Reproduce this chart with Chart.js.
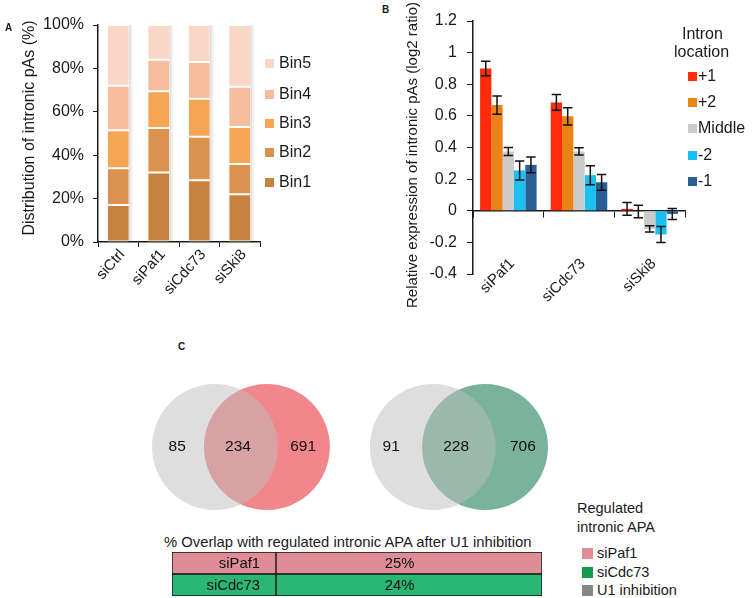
<!DOCTYPE html>
<html>
<head>
<meta charset="utf-8">
<script src="https://cdn.jsdelivr.net/npm/chart.js@4.4.1/dist/chart.umd.min.js"></script>
<style>
  body { margin: 0; background: #fff; font-family: Arial, "Liberation Sans", sans-serif; color: #1a1a1a; }
  #fig { position: relative; width: 753px; height: 598px; overflow: hidden; }
  #fig canvas { position: absolute; }
  .txt { position: absolute; white-space: nowrap; line-height: 20px; height: 20px; }
  .sq { position: absolute; }
  .panel { position: absolute; font-weight: bold; font-size: 10px; }
</style>
</head>
<body>
<div id="fig">
  <canvas id="distChart" width="300" height="300" style="left:0;top:0"></canvas>
  <canvas id="exprChart" width="300" height="320" style="left:400px;top:0"></canvas>
  <canvas id="vennChart" width="396" height="128" style="left:152px;top:383px"></canvas>
  <canvas id="overlapChart" width="370" height="44" style="left:172px;top:552px"></canvas>
</div>
<script>
// Panel A - distribution of intronic pAs (% per bin, stacked)
const distGroups = ["siCtrl", "siPaf1", "siCdc73", "siSki8"];
const binNames = ["Bin1", "Bin2", "Bin3", "Bin4", "Bin5"];
const bin1 = [17, 32, 28.5, 22];
const bin2 = [17, 20.5, 20, 14];
const bin3 = [17.5, 17, 17.5, 17];
const bin4 = [20.5, 14.5, 17, 18.5];
const bin5 = [28, 16, 17, 28.5];
const distTicks = [0, 20, 40, 60, 80, 100];

// Panel B - relative expression (log2 ratio) with error bars
const exprGroups = ["siPaf1", "siCdc73", "siSki8"];
const intronLocs = ["+1", "+2", "Middle", "-2", "-1"];
const locP1 = [0.90, 0.685, 0.012];
const locP2 = [0.668, 0.597, -0.005];
const locMid = [0.375, 0.375, -0.115];
const locM2 = [0.255, 0.225, -0.15];
const locM1 = [0.29, 0.18, -0.02];
const errP1 = [0.046, 0.05, 0.04];
const errP2 = [0.057, 0.054, 0.04];
const errMid = [0.025, 0.023, 0.02];
const errM2 = [0.06, 0.06, 0.05];
const errM1 = [0.05, 0.05, 0.035];
const exprTicks = [-0.4, -0.2, 0, 0.2, 0.4, 0.6, 0.8, 1, 1.2];

// Panel C - venn counts (U1 only, both, knockdown only)
const vennPaf1 = [85, 234, 691];
const vennCdc73 = [91, 228, 706];
const overlapRows = ["siPaf1", "siCdc73"];
const overlapPct = [25, 24];
const regLegend = ["siPaf1", "siCdc73", "U1 inhibition"];

// colours / layout (kept apart from the data)
const binColors = ["#c8823f", "#dc924f", "#f5a553", "#f6bd9d", "#f9d6c6"];
const locColors = ["#ff2b0a", "#ec8317", "#cbcbcb", "#1bc0f0", "#2b5e95"];
const regColors = ["#de8e97", "#139a4a", "#868686"];
const rowColors = ["#de8d96", "#2bb673"];
const VENN_X = { u1a: 0, paf1: 0.825, u1b: 3.46, cdc73: 4.29 };
const VENN_LABEL_X = [-0.6, 0.365, 1.4, 2.8, 3.83, 4.89];
const TABLE_SPLIT = 0.281;
const TABLE_VALUE_X = 0.615;

const fig = document.getElementById("fig");
function addText(x, cy, text, css) {
  const d = document.createElement("div");
  d.className = "txt";
  d.style.left = x + "px";
  d.style.top = (cy - 10) + "px";
  d.textContent = text;
  Object.assign(d.style, css || {});
  fig.appendChild(d);
  return d;
}
function addSquare(x, cy, size, color) {
  const s = document.createElement("div");
  s.className = "sq";
  s.style.left = x + "px";
  s.style.top = (cy - size / 2) + "px";
  s.style.width = size + "px";
  s.style.height = size + "px";
  s.style.background = color;
  fig.appendChild(s);
}
function addPanel(x, y, t) {
  const d = document.createElement("div");
  d.className = "panel";
  d.style.left = x + "px";
  d.style.top = y + "px";
  d.textContent = t;
  fig.appendChild(d);
}

const INK = "#1a1a1a";
const FONT = "Arial, 'Liberation Sans', sans-serif";
Chart.defaults.font.family = FONT;
Chart.defaults.color = INK;
Chart.defaults.animation = false;
Chart.defaults.plugins.legend.display = false;
Chart.defaults.plugins.tooltip.enabled = false;

// vertical axis title drawn beside the y axis (centre given in canvas px)
function sideTitle(text, size, cx, cy) {
  return {
    id: "sideTitle",
    afterDraw(chart) {
      const ctx = chart.ctx;
      ctx.save();
      ctx.translate(cx, cy);
      ctx.rotate(-Math.PI / 2);
      ctx.fillStyle = INK;
      ctx.font = size + "px " + FONT;
      ctx.textAlign = "center";
      ctx.textBaseline = "middle";
      ctx.fillText(text, 0, 0);
      ctx.restore();
    }
  };
}

// ---------- Panel A ----------
const barShadow = {
  id: "barShadow",
  beforeDatasetsDraw(chart) {
    const ctx = chart.ctx;
    const base = chart.getDatasetMeta(0).data;
    const top = chart.getDatasetMeta(chart.data.datasets.length - 1).data;
    ctx.save();
    base.forEach((b, i) => {
      const t = top[i];
      const right = b.x + b.width / 2;
      const y0 = t.y, y1 = b.base;
      ctx.fillStyle = "rgba(0,0,0,0.12)";
      ctx.fillRect(right, y0, 2, y1 - y0);
      ctx.fillStyle = "rgba(0,0,0,0.05)";
      ctx.fillRect(right + 2, y0, 2, y1 - y0);
    });
    ctx.restore();
  }
};

const binSeries = [bin1, bin2, bin3, bin4, bin5];
new Chart(document.getElementById("distChart"), {
  type: "bar",
  data: {
    labels: distGroups,
    datasets: binSeries.map((vals, i) => ({
      label: binNames[i],
      data: vals,
      backgroundColor: binColors[i],
      borderColor: "#ffffff",
      borderWidth: { top: 1, bottom: 1, left: 0, right: 0 },
      borderSkipped: false,
      barPercentage: 0.52,
      categoryPercentage: 1
    }))
  },
  options: {
    responsive: false,
    layout: { padding: { left: 20, top: 25, right: 40, bottom: 0 } },
    scales: {
      x: {
        stacked: true,
        ticks: { font: { size: 15 }, color: INK, minRotation: 48, maxRotation: 48, padding: -1, labelOffset: 4 },
        grid: { drawOnChartArea: false, tickLength: 5, color: INK, offset: true },
        border: { color: INK, width: 1.5 },
        afterFit: s => { s.height = 58; }
      },
      y: {
        stacked: true, min: 0, max: 100,
        afterBuildTicks: s => { s.ticks = distTicks.map(v => ({ value: v })); },
        ticks: { callback: v => v + "%", font: { size: 16 }, color: INK, padding: 9 },
        grid: { drawOnChartArea: false, tickLength: 5, color: INK },
        border: { color: INK, width: 1.5 },
        afterFit: s => { s.width = 78; }
      }
    }
  },
  plugins: [barShadow, sideTitle("Distribution of intronic pAs (%)", 16, 30, 128)]
});

const legendAY = [182, 152, 123, 94, 63];
binNames.forEach((n, i) => {
  addSquare(265, legendAY[i], 9, binColors[i]);
  addText(279, legendAY[i], n, { fontSize: "16px" });
});
addPanel(5, 22, "A");

// ---------- Panel B ----------
const errorBars = {
  id: "errorBars",
  afterDatasetsDraw(chart) {
    const ctx = chart.ctx;
    const y = chart.scales.y;
    ctx.save();
    ctx.strokeStyle = "#111";
    ctx.lineWidth = 1.5;
    chart.data.datasets.forEach((ds, i) => {
      chart.getDatasetMeta(i).data.forEach((bar, j) => {
        const v = ds.data[j], e = ds.errors[j];
        const yt = y.getPixelForValue(v + e), yb = y.getPixelForValue(v - e);
        const half = 4.7;
        ctx.beginPath();
        ctx.moveTo(bar.x, yt); ctx.lineTo(bar.x, yb);
        ctx.moveTo(bar.x - half, yt); ctx.lineTo(bar.x + half, yt);
        ctx.moveTo(bar.x - half, yb); ctx.lineTo(bar.x + half, yb);
        ctx.stroke();
      });
    });
    ctx.restore();
  }
};

const locSeries = [locP1, locP2, locMid, locM2, locM1];
const errSeries = [errP1, errP2, errMid, errM2, errM1];
new Chart(document.getElementById("exprChart"), {
  type: "bar",
  data: {
    labels: exprGroups,
    datasets: locSeries.map((vals, i) => ({
      label: intronLocs[i],
      data: vals,
      errors: errSeries[i],
      backgroundColor: locColors[i],
      borderWidth: 0,
      barPercentage: 1,
      categoryPercentage: 0.8
    }))
  },
  options: {
    responsive: false,
    layout: { padding: { left: 4, top: 21, right: 15, bottom: 46 } },
    scales: {
      x: {
        // category labels sit low, next to the bottom of the value axis
        position: { y: -0.4 },
        ticks: { font: { size: 15 }, color: INK, minRotation: 45, maxRotation: 45, padding: -19, labelOffset: 4 },
        grid: { display: false, drawTicks: false },
        border: { display: false }
      },
      x2: {
        type: "category",
        position: { y: 0 },
        z: 1,
        ticks: { display: false },
        grid: { drawOnChartArea: false, tickLength: 6, color: INK, offset: true },
        border: { color: INK, width: 1.5 }
      },
      y: {
        min: -0.4, max: 1.2,
        afterBuildTicks: s => { s.ticks = exprTicks.map(v => ({ value: v })); },
        ticks: { callback: v => String(+v.toFixed(1)), font: { size: 16 }, color: INK, padding: 10 },
        grid: { drawOnChartArea: false, tickLength: 6, color: INK },
        border: { color: INK, width: 1.5 },
        afterFit: s => { s.width = 69; }
      }
    }
  },
  plugins: [errorBars, sideTitle("Relative expression of intronic pAs (log2 ratio)", 15, 13, 155)]
});

addText(682, 34, "Intron", { fontSize: "16px" });
addText(674, 52, "location", { fontSize: "16px" });
const legendBY = [76, 102, 128, 155, 181];
intronLocs.forEach((n, i) => {
  addSquare(688, legendBY[i], 9, locColors[i]);
  addText(698, legendBY[i], n, { fontSize: "16px" });
});
addPanel(382, 4, "B");

// ---------- Panel C : venn ----------
const unitPx = ctx => {
  const x = ctx.chart.scales.x;
  return x.getPixelForValue(1) - x.getPixelForValue(0);
};
const vennLabels = {
  id: "vennLabels",
  afterDatasetsDraw(chart) {
    const ctx = chart.ctx;
    const { x, y } = chart.scales;
    const counts = vennPaf1.concat(vennCdc73);
    ctx.save();
    ctx.fillStyle = "#111";
    ctx.font = "15.5px " + FONT;
    ctx.textAlign = "center";
    ctx.textBaseline = "middle";
    counts.forEach((c, i) => ctx.fillText(String(c), x.getPixelForValue(VENN_LABEL_X[i]), y.getPixelForValue(0)));
    ctx.restore();
  }
};
new Chart(document.getElementById("vennChart"), {
  type: "scatter",
  data: {
    datasets: [
      { label: "U1 inhibition", data: [{ x: VENN_X.u1a, y: 0 }, { x: VENN_X.u1b, y: 0 }], backgroundColor: "rgba(190,190,190,0.5)" },
      { label: "siPaf1", data: [{ x: VENN_X.paf1, y: 0 }], backgroundColor: "#f2878b" },
      { label: "siCdc73", data: [{ x: VENN_X.cdc73, y: 0 }], backgroundColor: "#79b39b" }
    ].map(d => Object.assign(d, { pointRadius: unitPx, pointHoverRadius: unitPx, pointBorderWidth: 0, clip: false }))
  },
  options: {
    responsive: false,
    layout: { padding: 0, autoPadding: false },
    scales: {
      x: { type: "linear", min: -1, max: 5.29, display: false },
      y: { type: "linear", min: -1, max: 1, display: false }
    }
  },
  plugins: [vennLabels]
});

// ---------- Panel C : overlap table ----------
const tableText = {
  id: "tableText",
  afterDatasetsDraw(chart) {
    const ctx = chart.ctx;
    const x = chart.scales.x, y = chart.scales.y;
    ctx.save();
    ctx.fillStyle = "#111";
    ctx.font = "14.8px " + FONT;
    ctx.textBaseline = "middle";
    overlapRows.forEach((r, i) => {
      const cy = y.getPixelForValue(i) + 1;
      ctx.textAlign = "right";
      ctx.fillText(r, x.getPixelForValue(TABLE_SPLIT) - 16, cy);
      ctx.textAlign = "center";
      ctx.fillText(overlapPct[i] + "%", x.getPixelForValue(TABLE_VALUE_X), cy);
    });
    ctx.restore();
  }
};
new Chart(document.getElementById("overlapChart"), {
  type: "bar",
  data: {
    labels: overlapRows,
    datasets: [TABLE_SPLIT, 1 - TABLE_SPLIT].map(w => ({
      data: overlapRows.map(() => w),
      backgroundColor: rowColors,
      borderColor: "#111",
      borderWidth: 1,
      borderSkipped: false,
      barPercentage: 1,
      categoryPercentage: 1
    }))
  },
  options: {
    indexAxis: "y",
    responsive: false,
    layout: { padding: 0 },
    scales: {
      x: { stacked: true, min: 0, max: 1, display: false },
      y: { stacked: true, display: false }
    }
  },
  plugins: [tableText]
});

addText(164, 542, "% Overlap with regulated intronic APA after U1 inhibition", { fontSize: "14.8px" });
addText(577, 508, "Regulated", { fontSize: "14.5px" });
addText(577, 527, "intronic APA", { fontSize: "14.5px" });
const legendCY = [553, 572, 590];
regLegend.forEach((n, i) => {
  addSquare(582, legendCY[i], 11, regColors[i]);
  addText(597, legendCY[i], n, { fontSize: "14.5px" });
});
addPanel(178, 341, "C");
</script>
</body>
</html>
